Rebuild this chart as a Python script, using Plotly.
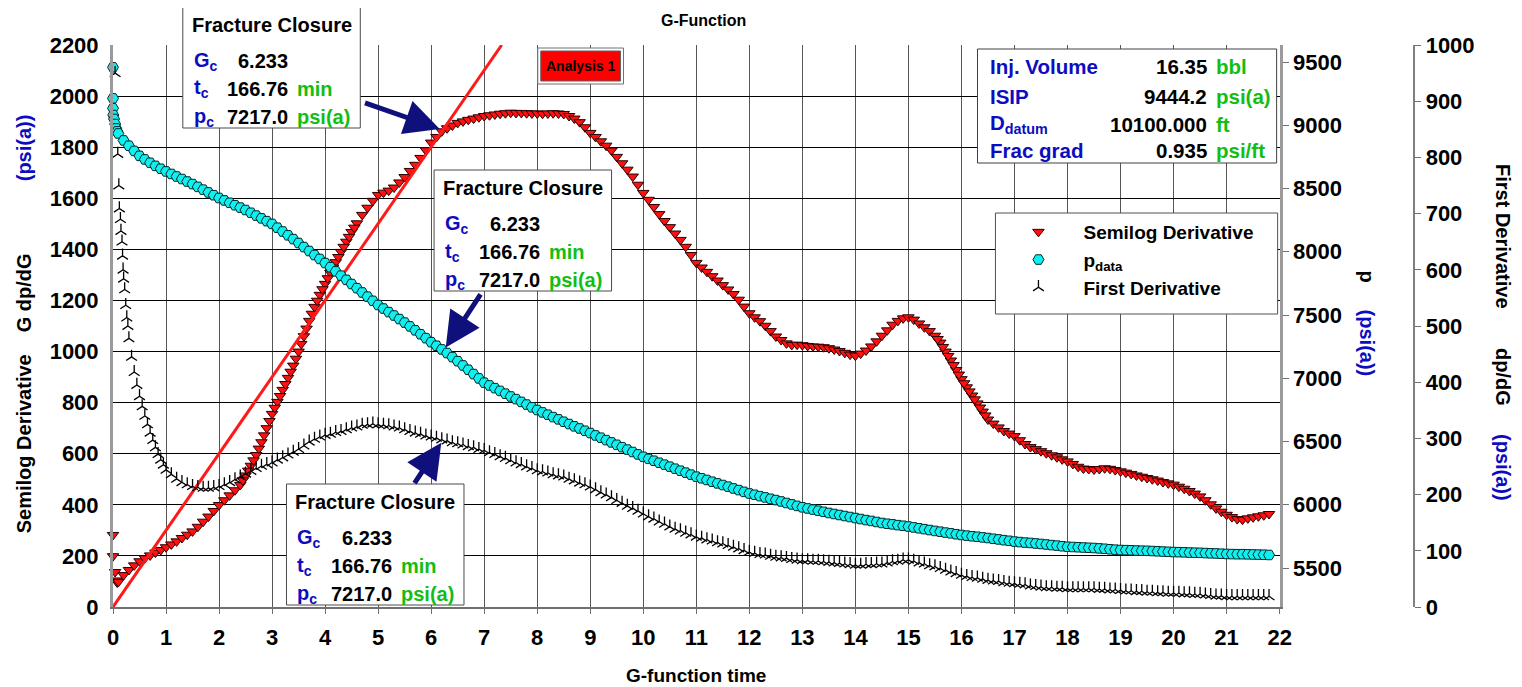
import plotly.graph_objects as go

# ---------------- data ----------------
G_MAIN = [
    0.1, 0.2, 0.3, 0.4, 0.5, 0.6, 0.7, 0.8, 0.9, 1.0,
    1.1, 1.2, 1.3, 1.4, 1.5, 1.6, 1.7, 1.8, 1.9, 2.0,
    2.1, 2.2, 2.3, 2.4, 2.5, 2.6, 2.7, 2.8, 2.9, 3.0,
    3.1, 3.2, 3.3, 3.4, 3.5, 3.6, 3.7, 3.8, 3.9, 4.0,
    4.1, 4.2, 4.3, 4.4, 4.5, 4.6, 4.7, 4.8, 4.9, 5.0,
    5.1, 5.2, 5.3, 5.4, 5.5, 5.6, 5.7, 5.8, 5.9, 6.0,
    6.1, 6.2, 6.3, 6.4, 6.5, 6.6, 6.7, 6.8, 6.9, 7.0,
    7.1, 7.2, 7.3, 7.4, 7.5, 7.6, 7.7, 7.8, 7.9, 8.0,
    8.1, 8.2, 8.3, 8.4, 8.5, 8.6, 8.7, 8.8, 8.9, 9.0,
    9.1, 9.2, 9.3, 9.4, 9.5, 9.6, 9.7, 9.8, 9.9, 10.0,
    10.1, 10.2, 10.3, 10.4, 10.5, 10.6, 10.7, 10.8, 10.9, 11.0,
    11.1, 11.2, 11.3, 11.4, 11.5, 11.6, 11.7, 11.8, 11.9, 12.0,
    12.1, 12.2, 12.3, 12.4, 12.5, 12.6, 12.7, 12.8, 12.9, 13.0,
    13.1, 13.2, 13.3, 13.4, 13.5, 13.6, 13.7, 13.8, 13.9, 14.0,
    14.1, 14.2, 14.3, 14.4, 14.5, 14.6, 14.7, 14.8, 14.9, 15.0,
    15.1, 15.2, 15.3, 15.4, 15.5, 15.6, 15.7, 15.8, 15.9, 16.0,
    16.1, 16.2, 16.3, 16.4, 16.5, 16.6, 16.7, 16.8, 16.9, 17.0,
    17.1, 17.2, 17.3, 17.4, 17.5, 17.6, 17.7, 17.8, 17.9, 18.0,
    18.1, 18.2, 18.3, 18.4, 18.5, 18.6, 18.7, 18.8, 18.9, 19.0,
    19.1, 19.2, 19.3, 19.4, 19.5, 19.6, 19.7, 19.8, 19.9, 20.0,
    20.1, 20.2, 20.3, 20.4, 20.5, 20.6, 20.7, 20.8, 20.9, 21.0,
    21.1, 21.2, 21.3, 21.4, 21.5, 21.6, 21.7, 21.8,
]

# Semilog derivative G dp/dG (left axis)
G_SEMI_EARLY = [0.0, 0.0, 0.04, 0.06, 0.08]
SEMI_EARLY = [282, 199, 137, 104, 96]
SEMI_MAIN = [
    98, 125, 145, 163, 179, 191, 202, 213, 223, 234,
    245, 257, 270, 283, 296, 314, 334, 354, 376, 399,
    418, 437, 457, 478, 515, 553, 595, 645, 700, 756,
    803, 850, 897, 945, 1000, 1060, 1120, 1175, 1222, 1265,
    1308, 1350, 1390, 1430, 1468, 1502, 1535, 1563, 1590, 1613,
    1622, 1630, 1642, 1662, 1683, 1707, 1731, 1758, 1788, 1818,
    1840, 1862, 1874, 1885, 1895, 1901, 1907, 1912, 1917, 1922,
    1925, 1928, 1931, 1933, 1935, 1934, 1934, 1933, 1932, 1932,
    1931, 1932, 1933, 1932, 1930, 1922, 1912, 1898, 1878, 1856,
    1840, 1823, 1806, 1787, 1762, 1737, 1712, 1685, 1653, 1621,
    1594, 1566, 1538, 1511, 1487, 1462, 1437, 1410, 1378, 1347,
    1329, 1312, 1295, 1278, 1260, 1243, 1225, 1203, 1176, 1150,
    1134, 1119, 1101, 1080, 1059, 1045, 1032, 1026, 1027, 1025,
    1022, 1020, 1019, 1017, 1013, 1008, 1002, 995, 988, 984,
    992, 1004, 1020, 1040, 1062, 1083, 1105, 1120, 1130, 1134,
    1125, 1110, 1095, 1080, 1062, 1035, 1000, 965, 928, 892,
    860, 828, 797, 765, 734, 718, 703, 689, 679, 669,
    653, 638, 626, 618, 610, 602, 594, 586, 578, 570,
    560, 549, 542, 540, 538, 540, 543, 541, 536, 531,
    526, 521, 515, 510, 505, 500, 495, 489, 484, 479,
    471, 463, 454, 444, 433, 418, 402, 386, 373, 361,
    352, 344, 342, 347, 351, 355, 359, 364,
]
# extra readings where the semilog curve is steep
G_SEMI_STEEP = [2.45, 2.55, 2.65, 2.75, 2.85, 2.95, 3.05, 3.15, 3.25, 3.35, 3.45,
                3.55, 3.65, 3.75, 3.85, 3.95, 4.05, 4.15, 4.25, 4.35, 4.45, 4.55,
                15.55, 15.65, 15.75, 15.85, 15.95, 16.05, 16.15, 16.25, 16.35, 16.45]
SEMI_STEEP = [496, 534, 574, 620, 672, 728, 780, 826, 873, 921, 972,
              1030, 1090, 1148, 1199, 1244, 1287, 1329, 1370, 1410, 1449, 1485,
              1049, 1018, 983, 947, 910, 876, 844, 813, 781, 750]

# Pressure p_data (right p axis)
G_P_EARLY = [0.0, 0.0, 0.0, 0.005, 0.02, 0.04, 0.06, 0.08]
P_EARLY = [9458, 9213, 9134, 9081, 9050, 9010, 8975, 8952]
P_MAIN = [
    8935, 8880, 8838, 8797, 8758, 8730, 8703, 8679, 8656, 8635,
    8615, 8595, 8575, 8555, 8535, 8513, 8491, 8469, 8447, 8425,
    8406, 8387, 8368, 8349, 8330, 8308, 8286, 8264, 8242, 8220,
    8190, 8160, 8130, 8100, 8069, 8037, 8006, 7974, 7943, 7911,
    7878, 7845, 7811, 7778, 7745, 7712, 7678, 7645, 7612, 7579,
    7551, 7523, 7496, 7468, 7440, 7410, 7379, 7348, 7317, 7285,
    7257, 7228, 7199, 7167, 7135, 7101, 7067, 7033, 6999, 6965,
    6943, 6922, 6900, 6878, 6856, 6835, 6813, 6792, 6770, 6749,
    6730, 6712, 6693, 6675, 6656, 6638, 6620, 6603, 6585, 6567,
    6548, 6530, 6511, 6493, 6474, 6455, 6436, 6417, 6398, 6379,
    6363, 6348, 6332, 6317, 6301, 6285, 6269, 6254, 6238, 6222,
    6209, 6196, 6182, 6169, 6156, 6143, 6129, 6116, 6102, 6089,
    6079, 6068, 6058, 6047, 6037, 6026, 6014, 6003, 5991, 5980,
    5971, 5962, 5953, 5944, 5935, 5927, 5919, 5911, 5903, 5895,
    5887, 5879, 5872, 5864, 5856, 5850, 5845, 5839, 5834, 5828,
    5821, 5814, 5807, 5800, 5793, 5787, 5780, 5774, 5767, 5761,
    5756, 5751, 5747, 5742, 5737, 5731, 5726, 5720, 5715, 5709,
    5705, 5701, 5698, 5694, 5690, 5686, 5681, 5677, 5672, 5668,
    5666, 5664, 5662, 5660, 5658, 5655, 5652, 5648, 5645, 5642,
    5641, 5640, 5638, 5637, 5636, 5634, 5632, 5630, 5628, 5626,
    5625, 5624, 5622, 5621, 5620, 5618, 5616, 5615, 5613, 5611,
    5610, 5609, 5609, 5608, 5607, 5606, 5605, 5603,
]

# First derivative dp/dG (third axis), main part starts at G = 0.3
G_D_EARLY = [0.04, 0.09, 0.11, 0.12, 0.14, 0.15, 0.17, 0.18, 0.19, 0.2, 0.22, 0.24, 0.26, 0.28,
             0.35, 0.45, 0.55, 0.65, 0.75, 0.85, 0.95]
D_EARLY = [950, 806, 750, 709, 690, 669, 650, 625, 600, 584, 565, 537, 515, 500,
           445, 395, 357, 325, 297, 272, 253]
D_MAIN = [
    478, 418, 375, 340, 310, 284, 262, 244,
    236, 228, 222, 218, 215, 213, 212, 212, 213, 215,
    218, 222, 227, 232, 237, 242, 247, 251, 254, 257,
    262, 266, 271, 276, 281, 287, 294, 299, 303, 306,
    308, 311, 313, 316, 319, 321, 324, 325, 326, 325,
    324, 323, 321, 319, 316, 313, 310, 308, 305, 303,
    301, 298, 296, 293, 291, 289, 286, 284, 281, 279,
    275, 272, 268, 265, 261, 257, 254, 250, 247, 243,
    241, 239, 236, 234, 232, 228, 225, 221, 218, 214,
    209, 204, 200, 195, 190, 185, 180, 176, 171, 166,
    161, 157, 152, 148, 143, 139, 136, 132, 129, 125,
    123, 120, 118, 115, 113, 110, 107, 104, 101, 98,
    96, 94, 93, 91, 89, 88, 87, 85, 84, 83,
    83, 82, 82, 81, 80, 79, 78, 77, 76, 75,
    75, 76, 76, 77, 77, 79, 81, 82, 84, 84,
    82, 79, 77, 74, 72, 69, 66, 63, 60, 57,
    55, 53, 52, 50, 48, 47, 46, 44, 43, 42,
    41, 40, 38, 37, 36, 35, 35, 34, 34, 33,
    33, 33, 33, 33, 33, 32, 32, 31, 31, 30,
    29, 29, 28, 28, 27, 27, 26, 26, 25, 25,
    25, 24, 24, 23, 23, 22, 21, 20, 20, 19,
    19, 19, 19, 19, 19, 19, 19, 19,
]

# straight red tangent line through origin
LINE_G = [0.0, 7.33]
LINE_S = [0.0, 2200.0]

# closure values
GC = 6.233
PC = 7217.0
SEMI_AT_GC = 1866
D_AT_GC = 298

X_TICKS = list(range(0, 23))
Y_TICKS = [0, 200, 400, 600, 800, 1000, 1200, 1400, 1600, 1800, 2000, 2200]
P_TICKS = [5500, 6000, 6500, 7000, 7500, 8000, 8500, 9000, 9500]
D_TICKS = [0, 100, 200, 300, 400, 500, 600, 700, 800, 900, 1000]
P_RANGE = [5191.7, 9634.4]

# ---------------- layout helpers ----------------
# page body has an 8px margin: figure starts at (8, 8) on screen
OFF = 8
W, H = 1522 - OFF, 687 - OFF
SL, SR, ST, SB = 113, 1502, 45, 607          # paper area in screen pixels
ML, MT = SL - OFF, ST - OFF
MR = W - (SR - OFF)
MB = H - (SB - OFF)
PW = SR - SL
PH = SB - ST
FONT = "Liberation Sans, Arial, sans-serif"
BLUE = "#0C0CC0"
GREEN = "#12BE12"
NAVY = "#10107C"


def px(x):
    return (x - SL) / PW


def py(y):
    return (SB - y) / PH


def txt(x, y, text, size=20, color="black", xanchor="center", angle=0):
    return dict(x=px(x), y=py(y), xref="paper", yref="paper", text=text,
                showarrow=False, xanchor=xanchor, yanchor="middle",
                textangle=angle,
                font=dict(family=FONT, size=size, color=color, weight="bold"))


def rect(x0, y0, x1, y1, fill="white", line="#505050", width=1):
    return dict(type="rect", xref="paper", yref="paper",
                x0=px(x0), x1=px(x1), y0=py(y1), y1=py(y0),
                fillcolor=fill, line=dict(color=line, width=width), layer="above")


fig = go.Figure()

fig.add_trace(go.Scatter(
    x=G_SEMI_EARLY + G_MAIN + G_SEMI_STEEP, y=SEMI_EARLY + SEMI_MAIN + SEMI_STEEP,
    mode="markers", name="Semilog Derivative", yaxis="y", cliponaxis=False,
    marker=dict(symbol="triangle-down", size=10, color="#FF1010",
                line=dict(color="#2A0000", width=1))))

fig.add_trace(go.Scatter(
    x=LINE_G, y=LINE_S, mode="lines", showlegend=False, yaxis="y",
    line=dict(color="#FF1A1A", width=3)))

fig.add_trace(go.Scatter(
    x=G_P_EARLY + G_MAIN, y=P_EARLY + P_MAIN, mode="markers",
    name="p<sub>data</sub>", yaxis="y2", cliponaxis=False,
    marker=dict(symbol="hexagon2", size=11, color="#10F0F0",
                line=dict(color="#002A2A", width=1))))

fig.add_trace(go.Scatter(
    x=G_D_EARLY + G_MAIN[2:], y=D_EARLY + D_MAIN, mode="markers",
    name="First Derivative", yaxis="y3", cliponaxis=False,
    marker=dict(symbol="y-up", size=9, color="black",
                line=dict(color="black", width=1.3))))

tickfont = dict(family=FONT, size=22, color="black", weight="bold")
xdom_right = px(1283)

fig.update_layout(
    width=W, height=H,
    margin=dict(l=ML, r=MR, t=MT, b=MB, pad=0),
    paper_bgcolor="white", plot_bgcolor="white",
    showlegend=True,
    legend=dict(x=px(996), y=py(213), xanchor="left", yanchor="top",
                bgcolor="rgba(0,0,0,0)", borderwidth=0, itemsizing="trace",
                itemwidth=80, tracegroupgap=0,
                font=dict(family=FONT, size=19, color="black", weight="bold")),
    xaxis=dict(range=[0, 22], domain=[0, xdom_right], tickvals=X_TICKS,
               showgrid=True, gridcolor="#555555", gridwidth=1,
               showline=True, linecolor="#707070", linewidth=2,
               ticks="outside", ticklen=5, tickcolor="#707070",
               ticklabelstandoff=5, tickfont=tickfont, zeroline=False),
    yaxis=dict(range=[0, 2200], tickvals=Y_TICKS, showgrid=True,
               gridcolor="black", gridwidth=1, showline=True,
               linecolor="#9A9A9A", linewidth=3, ticks="",
               ticklabelstandoff=7, tickfont=tickfont, zeroline=False),
    yaxis2=dict(range=P_RANGE, overlaying="y", side="right", anchor="x",
                tickvals=P_TICKS, showgrid=False, showline=True,
                linecolor="#9A9A9A", linewidth=3, ticks="outside", ticklen=6,
                tickcolor="#707070", tickfont=tickfont, zeroline=False),
    yaxis3=dict(range=[0, 1000], overlaying="y", side="right", anchor="free",
                position=px(1418), tickvals=D_TICKS, showgrid=False,
                showline=True, linecolor="#808080", linewidth=2,
                ticks="outside", ticklen=6, tickcolor="#707070",
                tickfont=tickfont, zeroline=False),
)

shapes = []
annotations = []

# Titles
annotations.append(txt(705, 20, "G-Function", size=16))
annotations.append(txt(698, 675, "G-function time", size=19))

# Left axis title
annotations.append(txt(24, 444, "Semilog Derivative", size=20, angle=-90))
annotations.append(txt(24, 293, "G dp/dG", size=20, angle=-90))
annotations.append(txt(24, 148, "(psi(a))", size=20, color=BLUE, angle=-90))
# p axis title
annotations.append(txt(1371, 277, "p", size=20, angle=90))
annotations.append(txt(1371, 343, "(psi(a))", size=20, color=BLUE, angle=90))
# third axis title
annotations.append(txt(1507, 237, "First Derivative", size=20, angle=90))
annotations.append(txt(1507, 377, "dp/dG", size=20, angle=90))
annotations.append(txt(1507, 468, "(psi(a))", size=20, color=BLUE, angle=90))

# Fracture closure boxes
for bx, by in [(183, 7), (435, 170), (287, 484)]:
    shapes.append(rect(bx, by, bx + 178, by + 121, line="#4A4A4A"))
    annotations.append(txt(bx + 89, by + 18, "Fracture Closure", size=20))
    rows = [("G<sub>c</sub>", "%.3f" % GC, ""),
            ("t<sub>c</sub>", "166.76", "min"),
            ("p<sub>c</sub>", "%.1f" % PC, "psi(a)")]
    for i, (lab, val, unit) in enumerate(rows):
        yy = by + 54 + 28 * i
        annotations.append(txt(bx + 9, yy, lab, size=20, color=BLUE, xanchor="left"))
        annotations.append(txt(bx + 108, yy, val, size=20, xanchor="right"))
        if unit:
            annotations.append(txt(bx + 113, yy, unit, size=20, color=GREEN, xanchor="left"))

# Info box
shapes.append(rect(980, 49, 1280, 163, line="#404040"))
info = [("Inj. Volume", "16.35", "bbl"),
        ("ISIP", "9444.2", "psi(a)"),
        ("D<sub>datum</sub>", "10100.000", "ft"),
        ("Frac grad", "0.935", "psi/ft")]
for i, (lab, val, unit) in enumerate(info):
    yy = [67, 96, 124, 151][i]
    annotations.append(txt(991, yy, lab, size=20.5, color=BLUE, xanchor="left"))
    annotations.append(txt(1212, yy, val, size=20.5, xanchor="right"))
    annotations.append(txt(1217, yy, unit, size=20.5, color=GREEN, xanchor="left"))

# Analysis 1 tag
shapes.append(rect(539, 48, 625, 84, fill="white", line="#707070"))
shapes.append(rect(542, 51, 622, 81, fill="#FF0000", line="#606060"))
annotations.append(txt(582, 66, "Analysis 1", size=14))

# Legend frame (legend itself drawn by plotly on top)
shapes.append(rect(998, 213, 1281, 314, line="#505050"))

# Arrows to the closure points
arrow = dict(showarrow=True, text="", arrowcolor=NAVY, arrowwidth=5,
             arrowhead=2, arrowsize=1.4, standoff=4, xref="x")
annotations.append(dict(arrow, x=GC, y=SEMI_AT_GC, yref="y", ax=-80, ay=-28))
annotations.append(dict(arrow, x=GC, y=PC, yref="y2", ax=38, ay=-58))
annotations.append(dict(arrow, x=GC, y=D_AT_GC, yref="y3", ax=-30, ay=45))

fig.update_layout(shapes=shapes, annotations=annotations)

fig.write_html("out.html")
